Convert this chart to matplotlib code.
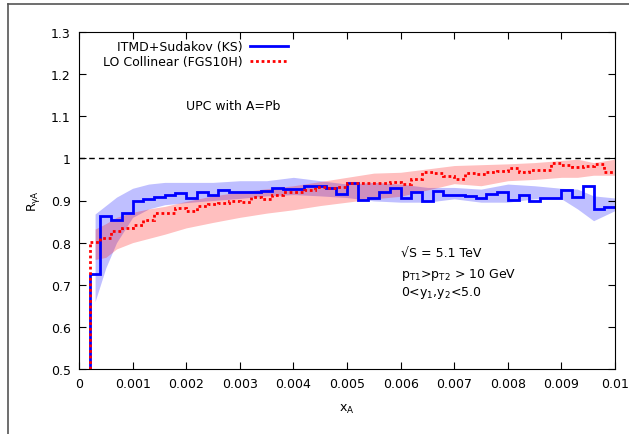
import numpy as np
import matplotlib
matplotlib.use("Agg")
from matplotlib import pyplot as plt
from matplotlib.lines import Line2D
from matplotlib.ticker import FuncFormatter

# bins of width 0.0002 from 0.0002 to 0.01
bin_edges = np.round(np.arange(1, 51) * 0.0002, 4)

# ITMD+Sudakov (KS), one value per bin
ks_values = [0.725, 0.863, 0.854, 0.870, 0.899, 0.903, 0.908, 0.913, 0.917, 0.905,
             0.919, 0.914, 0.924, 0.920, 0.921, 0.920, 0.923, 0.930, 0.927, 0.927,
             0.935, 0.934, 0.929, 0.916, 0.941, 0.901, 0.907, 0.921, 0.930, 0.907,
             0.921, 0.898, 0.922, 0.914, 0.912, 0.911, 0.905, 0.915, 0.919, 0.902,
             0.914, 0.900, 0.906, 0.906, 0.926, 0.908, 0.935, 0.881, 0.884]

# LO Collinear (FGS10H)
lo_values = [0.802, 0.810, 0.828, 0.835, 0.843, 0.854, 0.870, 0.870, 0.882, 0.876,
             0.886, 0.892, 0.894, 0.900, 0.897, 0.908, 0.903, 0.914, 0.919, 0.919,
             0.926, 0.933, 0.929, 0.933, 0.941, 0.941, 0.941, 0.942, 0.945, 0.939,
             0.951, 0.968, 0.966, 0.958, 0.950, 0.965, 0.962, 0.967, 0.970, 0.976,
             0.967, 0.973, 0.973, 0.990, 0.985, 0.979, 0.983, 0.987, 0.968]

# uncertainty bands
band_x = [0.0003, 0.0005, 0.0007, 0.001, 0.0013, 0.0016, 0.002, 0.0025, 0.003,
          0.0035, 0.004, 0.0045, 0.005, 0.0055, 0.006, 0.0065, 0.007, 0.0075,
          0.008, 0.0085, 0.009, 0.0093, 0.0096, 0.01]
ks_low = [0.66, 0.74, 0.80, 0.86, 0.88, 0.89, 0.895, 0.90, 0.905,
          0.911, 0.914, 0.911, 0.907, 0.899, 0.896, 0.896, 0.904, 0.896,
          0.896, 0.904, 0.904, 0.880, 0.852, 0.876]
ks_high = [0.868, 0.888, 0.908, 0.929, 0.939, 0.943, 0.943, 0.943, 0.947,
           0.947, 0.955, 0.947, 0.939, 0.943, 0.939, 0.931, 0.931, 0.927,
           0.939, 0.935, 0.929, 0.927, 0.911, 0.906]
lo_low = [0.76, 0.765, 0.785, 0.80, 0.81, 0.82, 0.835, 0.848, 0.860,
          0.870, 0.878, 0.888, 0.896, 0.904, 0.910, 0.925, 0.940, 0.935,
          0.947, 0.950, 0.955, 0.955, 0.960, 0.960]
lo_high = [0.832, 0.845, 0.860, 0.872, 0.880, 0.886, 0.898, 0.911, 0.920,
           0.928, 0.935, 0.945, 0.955, 0.965, 0.967, 0.975, 0.983, 0.985,
           0.987, 0.990, 0.995, 0.998, 0.990, 0.998]

x_ticks = [0, 0.001, 0.002, 0.003, 0.004, 0.005, 0.006, 0.007, 0.008, 0.009, 0.01]
y_ticks = [0.5, 0.6, 0.7, 0.8, 0.9, 1.0, 1.1, 1.2, 1.3]

plt.rcParams['font.family'] = ['DejaVu Sans']
plt.rcParams['font.size'] = 9

fig = plt.figure(figsize=(6.29, 4.35), dpi=100)
ax = fig.add_axes([79 / 629, 65 / 435, 536 / 629, 337 / 435])

ax.fill_between(band_x, ks_low, ks_high, color='blue', alpha=0.25, lw=0)
ax.fill_between(band_x, lo_low, lo_high, color='red', alpha=0.25, lw=0)

ax.axhline(1.0, color='black', lw=1, ls=(0, (4, 3)))

ax.stairs(ks_values, bin_edges, baseline=None, color='blue', lw=2,
          label='ITMD+Sudakov (KS)')
ax.vlines(bin_edges[0], 0.5, ks_values[0], color='blue', lw=2)
ax.stairs(lo_values, bin_edges, baseline=None, color='red', lw=2,
          ls=(0, (1, 1)), label='LO Collinear (FGS10H)')
ax.vlines(bin_edges[0], 0.5, lo_values[0], color='red', lw=2, ls=(0, (1, 1)))

ax.set_xlim(0, 0.01)
ax.set_ylim(0.5, 1.3)
ax.set_xticks(x_ticks)
ax.set_yticks(y_ticks)
ax.xaxis.set_major_formatter(FuncFormatter(lambda v, p: '%g' % round(v, 4)))
ax.yaxis.set_major_formatter(FuncFormatter(lambda v, p: '%g' % round(v, 2)))
ax.tick_params(direction='in', length=5, top=True, right=True, pad=6)

ax.set_xlabel(r'x$_\mathregular{A}$', labelpad=8)
ax.set_ylabel(r'R$_\mathregular{γA}$', labelpad=6)

ax.legend(loc='upper right', bbox_to_anchor=(0.41, 1.01), frameon=False,
          markerfirst=False, handlelength=3.0, handletextpad=0.6,
          labelspacing=0.2, fontsize=9)

ax.text(0.002, 1.125, 'UPC with A=Pb', fontsize=9, va='center')
ax.text(0.006, 0.777, '√S = 5.1 TeV', fontsize=9, va='center')
ax.text(0.006, 0.725, r'p$_\mathregular{T1}$>p$_\mathregular{T2}$ > 10 GeV', fontsize=9, va='center')
ax.text(0.006, 0.682, r'0<y$_\mathregular{1}$,y$_\mathregular{2}$<5.0', fontsize=9, va='center')

# outer frame of the original picture
fig.add_artist(Line2D([7.5 / 629, 7.5 / 629], [0, 1 - 5 / 435], color='#555555', lw=1.2))
fig.add_artist(Line2D([7.5 / 629, 1], [1 - 5 / 435, 1 - 5 / 435], color='#555555', lw=1.2))

fig.savefig('out.png', dpi=100)
